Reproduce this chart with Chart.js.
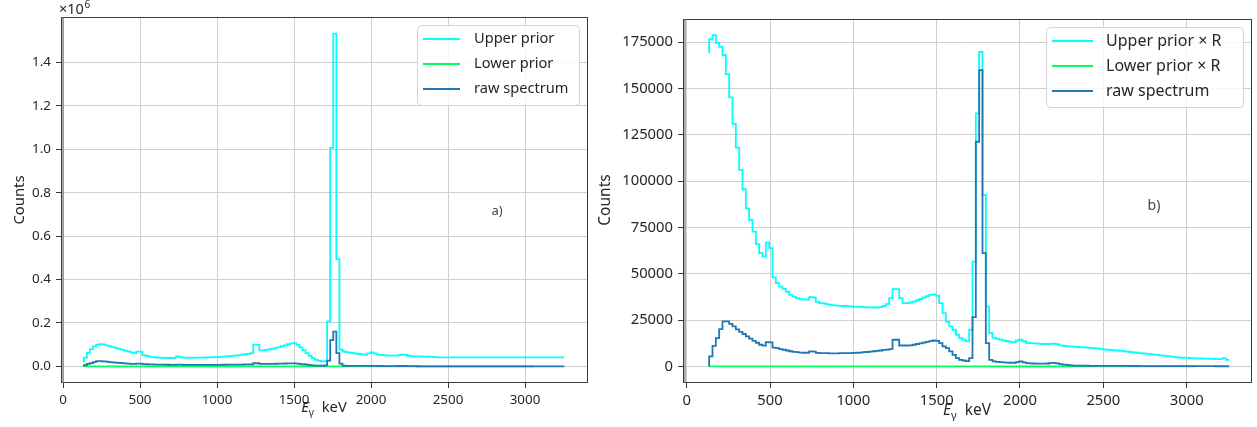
<!DOCTYPE html>
<html>
<head>
<meta charset="utf-8">
<title>Spectrum priors</title>
<script src="https://cdn.jsdelivr.net/npm/chart.js@4.4.1/dist/chart.umd.min.js"></script>
<style>
  html, body { margin: 0; padding: 0; background: #fff; }
  body { width: 1257px; height: 427px; position: relative; overflow: hidden; }
  canvas { position: absolute; top: 0; }
  #specA { left: 0; }
  #specB { left: 595px; }
</style>
</head>
<body>
<canvas id="specA" width="595" height="427"></canvas>
<canvas id="specB" width="662" height="427"></canvas>
<script>
// histogram binning (keV)
const binStart = 135;
const binWidth = 20;

const xTicks = [0, 500, 1000, 1500, 2000, 2500, 3000];
const yTicksA = [0, 200000, 400000, 600000, 800000, 1000000, 1200000, 1400000];
const yTicksB = [0, 25000, 50000, 75000, 100000, 125000, 150000, 175000];

// first entry is the starting level, then one value per bin
const upperPrior = [18400,
  40000, 62000, 80000, 92000, 100000, 103000, 101000, 97000, 93000, 89000,
  85000, 81000, 77000, 73000, 69000, 65000, 61000, 68000, 68000, 52000,
  48000, 45000, 43000, 41000, 40000, 39000, 38600, 38600, 38600, 39000,
  46000, 43000, 40000, 39500, 40500, 39000, 40000, 40000, 40500, 41000,
  42000, 42000, 42500, 43000, 44000, 45000, 46000, 47000, 48500, 50000,
  52000, 54000, 56000, 58000, 61000, 100000, 100000, 74000, 74000, 76000,
  79000, 82000, 85000, 89000, 93000, 97000, 102000, 106000, 107000, 100000,
  88000, 75000, 61000, 48000, 38000, 30000, 25000, 23000, 24000, 207000,
  1007000, 1533000, 494000, 77000, 69000, 66000, 63000, 61000, 59000, 57000,
  55000, 54000, 60000, 64000, 60000, 55000, 53000, 52000, 51000, 50000,
  50000, 50000, 52000, 54000, 53000, 49000, 47000, 46000, 46000, 46000,
  45000, 44500, 44000, 44000, 43000, 42000, 41500, 41400, 41400, 41400,
  41400, 41400, 41400, 41400, 41400, 41400, 41400, 41400, 41400, 41400,
  41400, 41400, 41400, 41400, 41400, 41400, 41400, 41400, 41400, 41400,
  41400, 41400, 41400, 41400, 41400, 41400, 41400, 41400, 41400, 41400,
  41400, 41400, 41400, 41400, 41400, 41400];

const lowerPrior = [0,
  0, 0, 0, 0, 0, 0, 0, 0, 0, 0,  0, 0, 0, 0, 0, 0, 0, 0, 0, 0,
  0, 0, 0, 0, 0, 0, 0, 0, 0, 0,  0, 0, 0, 0, 0, 0, 0, 0, 0, 0,
  0, 0, 0, 0, 0, 0, 0, 0, 0, 0,  0, 0, 0, 0, 0, 0, 0, 0, 0, 0,
  0, 0, 0, 0, 0, 0, 0, 0, 0, 0,  0, 0, 0, 0, 0, 0, 0, 0, 0, 0,
  0, 0, 0, 0, 0, 0, 0, 0, 0, 0,  0, 0, 0, 0, 0, 0, 0, 0, 0, 0,
  0, 0, 0, 0, 0, 0, 0, 0, 0, 0,  0, 0, 0, 0, 0, 0, 0, 0, 0, 0,
  0, 0, 0, 0, 0, 0, 0, 0, 0, 0,  0, 0, 0, 0, 0, 0, 0, 0, 0, 0,
  0, 0, 0, 0, 0, 0];

const upperPriorR = [169000,
  176500, 178700, 174600, 172400, 168000, 157700, 145100, 130800, 118000, 106000,
  95600, 85300, 79000, 72700, 66000, 61100, 59300, 66800, 63800, 48000,
  44900, 43100, 41800, 40400, 38600, 37700, 36900, 36500, 36200, 36000,
  37400, 37200, 34800, 34200, 34000, 33600, 33200, 33000, 32800, 32700,
  32600, 32500, 32400, 32300, 32200, 32200, 32000, 31900, 31900, 31800,
  31800, 32000, 32600, 33600, 36900, 41700, 41700, 36900, 34200, 34200,
  34500, 35000, 35700, 36400, 37200, 37900, 38600, 38900, 38200, 34200,
  28800, 24200, 21600, 19800, 17100, 15300, 14400, 13500, 19800, 56600,
  136500, 169700, 92500, 32300, 18000, 15500, 15000, 14500, 14000, 13600,
  13300, 13000, 14000, 14400, 13600, 12800, 12600, 12400, 12300, 12200,
  12100, 12000, 12200, 12300, 12000, 11400, 11100, 10900, 10800, 10700,
  10500, 10400, 10300, 10200, 10000, 9900, 9700, 9500, 9200, 9000,
  8900, 8700, 8600, 8400, 8200, 8000, 7800, 7600, 7400, 7200,
  7000, 6800, 6600, 6400, 6200, 6000, 5800, 5600, 5400, 5200,
  4900, 4800, 4700, 4600, 4500, 4400, 4300, 4300, 4200, 4200,
  4100, 4100, 4000, 4000, 4500, 3600];

const lowerPriorR = [0,
  0, 0, 0, 0, 0, 0, 0, 0, 0, 0,  0, 0, 0, 0, 0, 0, 0, 0, 0, 0,
  0, 0, 0, 0, 0, 0, 0, 0, 0, 0,  0, 0, 0, 0, 0, 0, 0, 0, 0, 0,
  0, 0, 0, 0, 0, 0, 0, 0, 0, 0,  0, 0, 0, 0, 0, 0, 0, 0, 0, 0,
  0, 0, 0, 0, 0, 0, 0, 0, 0, 0,  0, 0, 0, 0, 0, 0, 0, 0, 0, 0,
  0, 0, 0, 0, 0, 0, 0, 0, 0, 0,  0, 0, 0, 0, 0, 0, 0, 0, 0, 0,
  0, 0, 0, 0, 0, 0, 0, 0, 0, 0,  0, 0, 0, 0, 0, 0, 0, 0, 0, 0,
  0, 0, 0, 0, 0, 0, 0, 0, 0, 0,  0, 0, 0, 0, 0, 0, 0, 0, 0, 0,
  0, 0, 0, 0, 0, 0];

const rawSpectrum = [0,
  5400, 11150, 15300, 20100, 24300, 24300, 23000, 21600, 20000, 18600,
  17500, 16200, 15000, 13800, 12800, 11700, 11200, 13100, 13000, 10200,
  9900, 9400, 9000, 8600, 8200, 7900, 7700, 7500, 7400, 7400,
  8100, 8000, 7300, 7200, 7200, 7200, 7100, 7100, 7100, 7200,
  7200, 7200, 7200, 7300, 7400, 7500, 7700, 7800, 8000, 8200,
  8400, 8600, 8900, 9100, 9300, 14400, 14400, 11300, 11300, 11300,
  11400, 11700, 12100, 12500, 12900, 13300, 13700, 14000, 13800, 12600,
  10800, 9900, 8100, 6300, 4500, 3600, 3200, 2900, 4500, 26600,
  121200, 159900, 61100, 12600, 3500, 2700, 2500, 2300, 2200, 2100,
  2000, 2000, 2300, 2700, 2200, 1800, 1700, 1600, 1500, 1500,
  1500, 1600, 1800, 1900, 1700, 1300, 1000, 800, 600, 500,
  450, 400, 400, 380, 360, 350, 340, 330, 320, 310,
  300, 300, 290, 280, 270, 260, 250, 250, 240, 230,
  230, 220, 210, 210, 200, 200, 190, 190, 180, 180,
  170, 170, 160, 160, 150, 150, 150, 140, 140, 130,
  130, 130, 120, 120, 120, 110];

const FONT = '"Noto Sans", "DejaVu Sans", sans-serif';
const INK = '#262626';

// point i sits on bin edge i; stepped 'after' gives the bin its own value
function toSteps(values) {
  return values.map((v, i) => ({ x: binStart + binWidth * i, y: v }));
}

function drawEnergyTitle(ctx, cx, cy, size) {
  const it = 'italic ' + size + 'px ' + FONT;
  const rg = size + 'px ' + FONT;
  const sb = Math.round(size * 0.68) + 'px ' + FONT;
  ctx.font = it; const wE = ctx.measureText('E').width;
  ctx.font = sb; const wG = ctx.measureText('γ').width;
  ctx.font = rg; const wK = ctx.measureText('  keV').width;
  let x = cx - (wE + wG + wK) / 2;
  ctx.textAlign = 'left';
  ctx.textBaseline = 'alphabetic';
  const base = cy + size * 0.35;
  ctx.font = it; ctx.fillText('E', x, base); x += wE;
  ctx.font = sb; ctx.fillText('γ', x, base + size * 0.25); x += wG;
  ctx.font = rg; ctx.fillText('  keV', x, base);
}

// frame, legend, axis titles and panel tag
const decor = {
  id: 'decor',
  afterDraw(chart, args, o) {
    const { ctx, chartArea: a } = chart;
    ctx.save();

    // spines
    ctx.strokeStyle = '#3a3a3a';
    ctx.lineWidth = 1;
    ctx.strokeRect(a.left + 0.5, a.top + 0.5, a.right - a.left - 1, a.bottom - a.top - 1);
    ctx.strokeStyle = 'rgba(120,120,120,0.6)';
    ctx.lineWidth = 2;
    ctx.beginPath();
    ctx.moveTo(a.left + 2, a.top);
    ctx.lineTo(a.left + 2, a.bottom);
    ctx.stroke();

    // legend
    const L = o.legend;
    ctx.fillStyle = 'rgba(255,255,255,0.8)';
    ctx.strokeStyle = '#d4d4d4';
    ctx.lineWidth = 1;
    ctx.beginPath();
    ctx.roundRect(L.x0 + 0.5, L.y0 + 0.5, L.x1 - L.x0, L.y1 - L.y0, 4);
    ctx.fill();
    ctx.stroke();
    ctx.font = L.size + 'px ' + FONT;
    ctx.textAlign = 'left';
    ctx.textBaseline = 'middle';
    chart.data.datasets.forEach((ds, i) => {
      const y = L.row0 + i * L.step;
      ctx.strokeStyle = ds.borderColor;
      ctx.lineWidth = 2;
      ctx.beginPath();
      ctx.moveTo(L.lx0, y);
      ctx.lineTo(L.lx1, y);
      ctx.stroke();
      ctx.fillStyle = INK;
      ctx.fillText(ds.label, L.tx, y);
    });

    // axis titles
    ctx.fillStyle = INK;
    ctx.save();
    ctx.translate(o.yTitle.x, o.yTitle.y);
    ctx.rotate(-Math.PI / 2);
    ctx.font = o.titleSize + 'px ' + FONT;
    ctx.textAlign = 'center';
    ctx.textBaseline = 'middle';
    ctx.fillText('Counts', 0, 0);
    ctx.restore();
    drawEnergyTitle(ctx, o.xTitle.x, o.xTitle.y, o.titleSize);

    // panel tag
    ctx.font = o.tag.size + 'px ' + FONT;
    ctx.fillStyle = '#444';
    ctx.textAlign = 'center';
    ctx.textBaseline = 'middle';
    ctx.fillText(o.tag.text, o.tag.x, o.tag.y);

    // offset text of the y axis
    if (o.offsetText) {
      ctx.font = '14.5px ' + FONT;
      ctx.fillStyle = INK;
      ctx.textAlign = 'left';
      ctx.textBaseline = 'alphabetic';
      ctx.fillText('×10', o.offsetText.x, o.offsetText.y);
      const w = ctx.measureText('×10').width;
      ctx.font = '10px ' + FONT;
      ctx.fillText('6', o.offsetText.x + w + 0.5, o.offsetText.y - 6);
    }
    ctx.restore();
  }
};

function makeChart(id, p) {
  const line = { stepped: 'after', pointRadius: 0, borderWidth: 1.8, fill: false };
  return new Chart(document.getElementById(id), {
    type: 'line',
    data: {
      datasets: [
        Object.assign({ label: p.labels[0], data: toSteps(p.upper), borderColor: '#00ffff', order: 2 }, line),
        Object.assign({ label: p.labels[1], data: toSteps(p.lower), borderColor: '#00ff5a', order: 1 }, line),
        Object.assign({ label: p.labels[2], data: toSteps(rawSpectrum), borderColor: '#1f77b4', order: 0 }, line)
      ]
    },
    plugins: [decor],
    options: {
      responsive: false,
      animation: false,
      events: [],
      layout: { padding: { top: p.top, right: p.right, left: 0, bottom: 0 } },
      plugins: {
        legend: { display: false },
        tooltip: { enabled: false },
        decor: p.decor
      },
      scales: {
        x: {
          type: 'linear',
          min: p.xMin,
          max: p.xMax,
          afterBuildTicks: s => { s.ticks = xTicks.map(v => ({ value: v })); },
          afterFit: s => { s.height = 44; },
          border: { display: false },
          grid: { color: '#cfcfcf', lineWidth: 1, tickColor: '#3a3a3a', tickLength: 5 },
          ticks: {
            color: INK, padding: 4, maxRotation: 0, autoSkip: false,
            font: { family: FONT, size: p.tickSize },
            callback: v => String(v)
          }
        },
        y: {
          min: p.yMin,
          max: p.yMax,
          afterBuildTicks: s => { s.ticks = p.yTicks.map(v => ({ value: v })); },
          afterFit: s => { s.width = p.yWidth; },
          border: { display: false },
          grid: { color: '#cfcfcf', lineWidth: 1, tickColor: '#3a3a3a', tickLength: 5 },
          ticks: {
            color: INK, padding: 5, autoSkip: false,
            font: { family: FONT, size: p.tickSize },
            callback: p.yLabel
          }
        }
      }
    }
  });
}

makeChart('specA', {
  labels: ['Upper prior', 'Lower prior', 'raw spectrum'],
  upper: upperPrior,
  lower: lowerPrior,
  top: 17, right: 7, yWidth: 61,
  xMin: -13, xMax: 3409,
  yMin: -76500, yMax: 1609500,
  yTicks: yTicksA,
  yLabel: v => (v / 1e6).toFixed(1),
  tickSize: 13.4,
  decor: {
    legend: { x0: 417, x1: 579, y0: 25, y1: 105, lx0: 423, lx1: 460, tx: 474, row0: 39, step: 25, size: 14.6 },
    yTitle: { x: 20, y: 200 },
    xTitle: { x: 324, y: 407 },
    titleSize: 14.8,
    tag: { text: 'a)', x: 497, y: 211, size: 13 },
    offsetText: { x: 59, y: 14 }
  }
});

makeChart('specB', {
  labels: ['Upper prior × R', 'Lower prior × R', 'raw spectrum'],
  upper: upperPriorR,
  lower: lowerPriorR,
  top: 19, right: 5, yWidth: 88,
  xMin: -22, xMax: 3392,
  yMin: -8925, yMax: 187425,
  yTicks: yTicksB,
  yLabel: v => String(v),
  tickSize: 14.8,
  decor: {
    legend: { x0: 451, x1: 648, y0: 27, y1: 107, lx0: 457, lx1: 498, tx: 511, row0: 41, step: 25, size: 16 },
    yTitle: { x: 11, y: 200 },
    xTitle: { x: 372, y: 410 },
    titleSize: 15.5,
    tag: { text: 'b)', x: 559, y: 206, size: 14 }
  }
});
</script>
</body>
</html>
